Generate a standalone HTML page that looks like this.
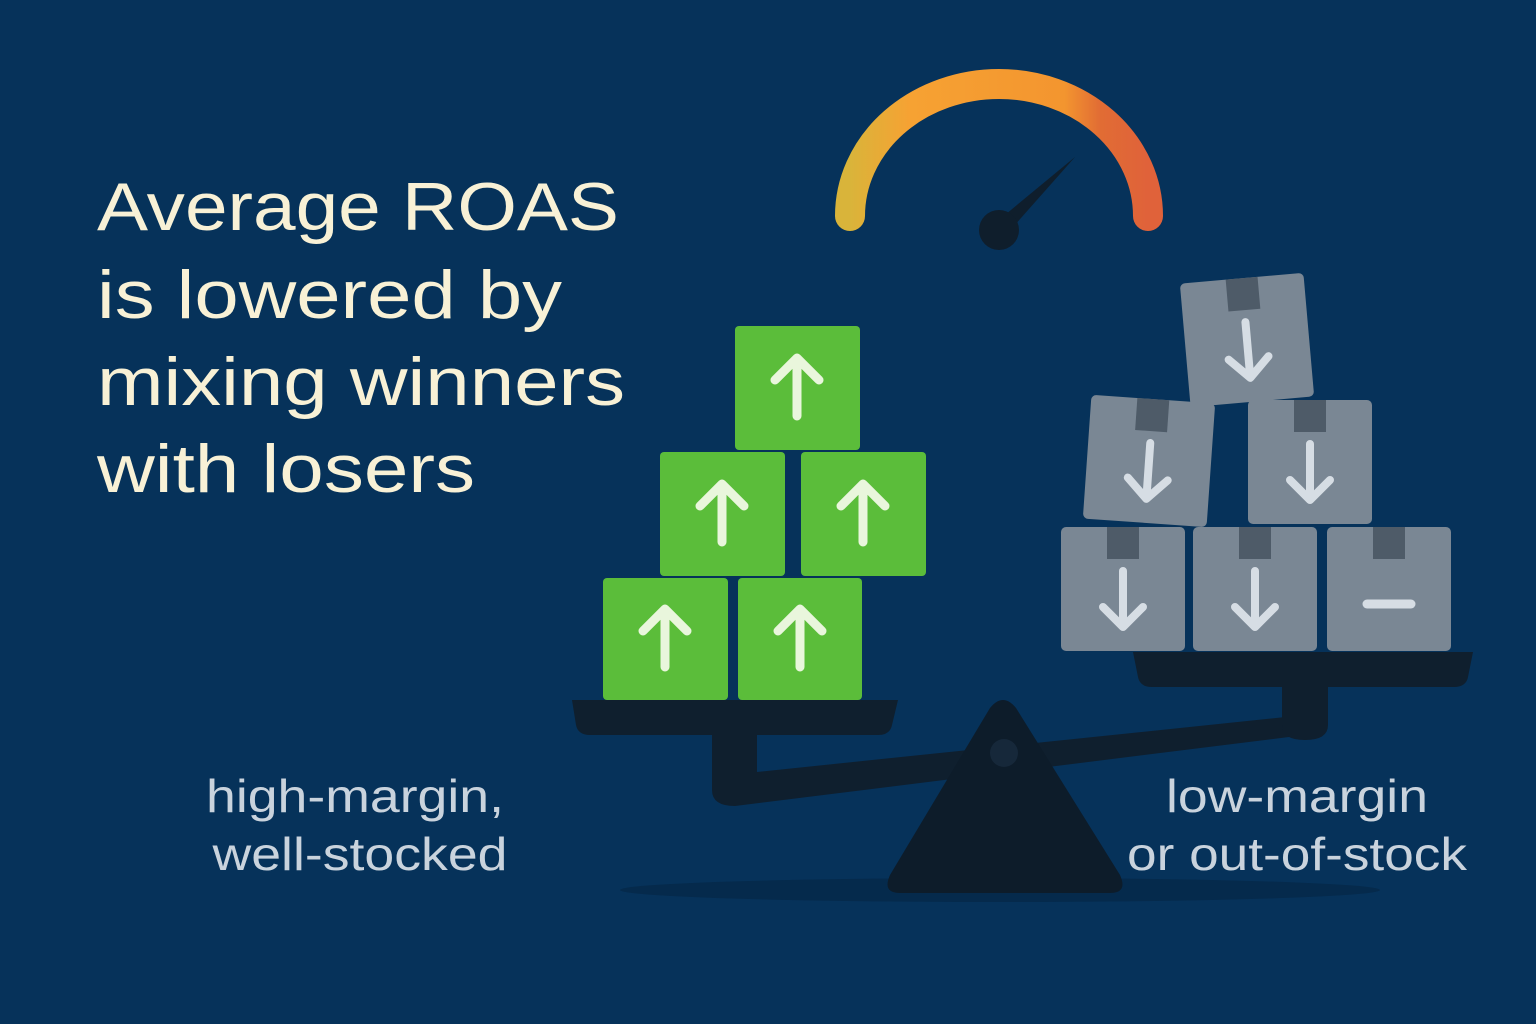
<!DOCTYPE html>
<html><head><meta charset="utf-8"><style>
html,body{margin:0;padding:0;background:#06325a;}
svg{display:block}
</style></head><body>
<svg width="1536" height="1024" viewBox="0 0 1536 1024" xmlns="http://www.w3.org/2000/svg">
<defs>
<linearGradient id="g" x1="0" y1="0" x2="1" y2="0">
<stop offset="0" stop-color="#d9b43a"/>
<stop offset="0.2" stop-color="#f6a233"/>
<stop offset="0.72" stop-color="#f3952f"/>
<stop offset="0.84" stop-color="#e16c34"/>
<stop offset="1" stop-color="#e0623a"/>
</linearGradient>
<g id="up"><path d="M0 28 V-30 M-22 -8 L0 -30 L22 -8" stroke="#e9f6dc" stroke-width="9" fill="none" stroke-linecap="round" stroke-linejoin="round"/></g>
<g id="dn"><path d="M0 -28 V28 M-20 8 L0 28 L20 8" stroke="#d6dde4" stroke-width="8" fill="none" stroke-linecap="round" stroke-linejoin="round"/></g>
<g id="gb"><rect x="-62" y="-62" width="124" height="124" rx="5" fill="#7a8794"/><rect x="-16" y="-62" width="32" height="32" fill="#4e5b68"/></g>
</defs>
<rect width="1536" height="1024" fill="#06325a"/>
<g font-family="Liberation Sans, sans-serif" fill="#f8f1d6" font-size="68">
<text x="97" y="230" textLength="522" lengthAdjust="spacingAndGlyphs">Average ROAS</text>
<text x="97" y="318" textLength="465" lengthAdjust="spacingAndGlyphs">is lowered by</text>
<text x="97" y="405" textLength="528" lengthAdjust="spacingAndGlyphs">mixing winners</text>
<text x="97" y="492" textLength="378" lengthAdjust="spacingAndGlyphs">with losers</text>
</g>
<g font-family="Liberation Sans, sans-serif" fill="#c9d3dd" font-size="46" text-anchor="middle">
<text x="355" y="812" textLength="298" lengthAdjust="spacingAndGlyphs">high-margin,</text>
<text x="360" y="870" textLength="295" lengthAdjust="spacingAndGlyphs">well-stocked</text>
<text x="1297" y="812" textLength="262" lengthAdjust="spacingAndGlyphs">low-margin</text>
<text x="1297" y="870" textLength="340" lengthAdjust="spacingAndGlyphs">or out-of-stock</text>
</g>
<!-- gauge -->
<path d="M850 216 A149 132 0 0 1 1148 216" stroke="url(#g)" stroke-width="30" fill="none" stroke-linecap="round"/>
<path d="M994 224 L1075 157 L1005 236 Z" fill="#0f1e2c"/>
<circle cx="999" cy="230" r="20" fill="#0f1e2c"/>
<!-- shadow -->
<ellipse cx="1000" cy="890" rx="380" ry="12" fill="#052a4c"/>
<!-- scale -->
<g fill="#0f1f2e">
<path d="M572 700 H898 L892 725 Q890 735 878 735 H590 Q578 735 576 725 Z"/>
<rect x="712" y="735" width="45" height="55"/>
<path d="M712 760 V790 Q712 806 735 806 L1305 735 V715 L757 772 V760 Z"/>
<path d="M1133 652 H1473 L1468 677 Q1466 687 1454 687 H1152 Q1140 687 1138 677 Z"/>
<path d="M1282 687 H1328 V725 Q1328 740 1305 740 Q1282 740 1282 725 Z"/>
<path d="M990 708 Q1003 692 1016 708 L1120 875 Q1128 893 1110 893 H900 Q882 893 890 875 Z" fill="#0d1c2a"/>
</g>
<circle cx="1004" cy="753" r="14" fill="#16283a"/>
<!-- green boxes -->
<g fill="#5bbd3a">
<rect x="735" y="326" width="125" height="124" rx="4"/>
<rect x="660" y="452" width="125" height="124" rx="4"/>
<rect x="801" y="452" width="125" height="124" rx="4"/>
<rect x="603" y="578" width="125" height="122" rx="4"/>
<rect x="738" y="578" width="124" height="122" rx="4"/>
</g>
<use href="#up" x="797" y="388"/>
<use href="#up" x="722" y="514"/>
<use href="#up" x="863" y="514"/>
<use href="#up" x="665" y="639"/>
<use href="#up" x="800" y="639"/>
<!-- grey boxes -->
<g transform="translate(1247,340) rotate(-5)"><use href="#gb"/><use href="#dn" y="10"/></g>
<g transform="translate(1149,461) rotate(4)"><use href="#gb"/><use href="#dn" y="10"/></g>
<g transform="translate(1310,462)"><use href="#gb"/><use href="#dn" y="10"/></g>
<g transform="translate(1123,589)"><use href="#gb"/><use href="#dn" y="10"/></g>
<g transform="translate(1255,589)"><use href="#gb"/><use href="#dn" y="10"/></g>
<g transform="translate(1389,589)"><use href="#gb"/><path d="M-22 15 H22" stroke="#d6dde4" stroke-width="9" stroke-linecap="round"/></g>
</svg>
</body></html>
